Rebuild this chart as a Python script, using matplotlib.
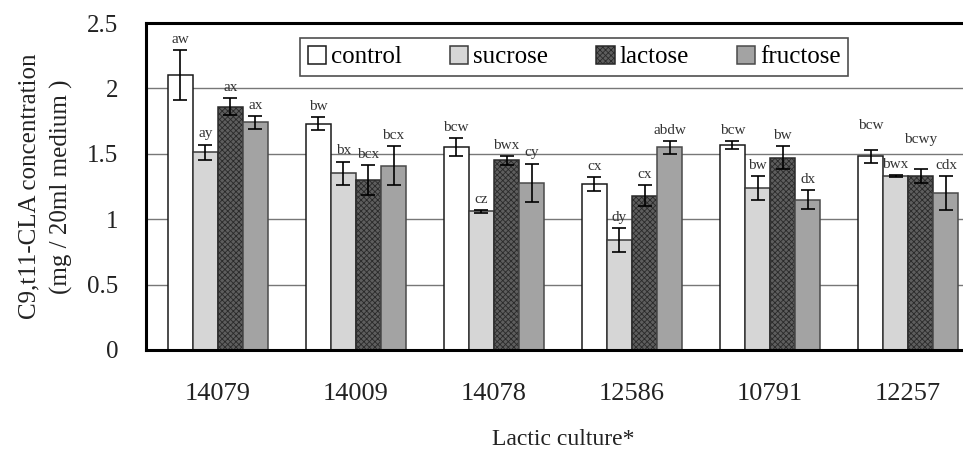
import numpy as np
import matplotlib
matplotlib.use("Agg")
import matplotlib.pyplot as plt

plt.rcParams['font.family'] = ['Liberation Serif', 'DejaVu Serif']
plt.rcParams['hatch.linewidth'] = 0.6

cultures = ['14079', '14009', '14078', '12586', '10791', '12257']
sugars = ['control', 'sucrose', 'lactose', 'fructose']

control = [2.10, 1.73, 1.55, 1.27, 1.57, 1.48]
sucrose = [1.51, 1.35, 1.06, 0.84, 1.24, 1.33]
lactose = [1.86, 1.30, 1.45, 1.18, 1.47, 1.33]
fructose = [1.74, 1.41, 1.28, 1.55, 1.15, 1.20]

control_err = [0.19, 0.05, 0.07, 0.055, 0.03, 0.05]
sucrose_err = [0.06, 0.09, 0.01, 0.09, 0.09, 0.01]
lactose_err = [0.065, 0.115, 0.035, 0.08, 0.09, 0.05]
fructose_err = [0.05, 0.15, 0.145, 0.05, 0.07, 0.13]

control_lab = ['aw', 'bw', 'bcw', 'cx', 'bcw', 'bcw']
sucrose_lab = ['ay', 'bx', 'cz', 'dy', 'bw', 'bwx']
lactose_lab = ['ax', 'bcx', 'bwx', 'cx', 'bw', 'bcwy']
fructose_lab = ['ax', 'bcx', 'cy', 'abdw', 'dx', 'cdx']

values = [control, sucrose, lactose, fructose]
errors = [control_err, sucrose_err, lactose_err, fructose_err]
letters = [control_lab, sucrose_lab, lactose_lab, fructose_lab]
colors = ['white', '#d6d6d6', '#5e5e5e', '#a3a3a3']
hatches = [None, None, 'xxxxxx', None]
edges = ['#1a1a1a', '#3a3a3a', '#2a2a2a', '#4a4a4a']

# extra lift (points) for crowded letter labels: (series, group)
lift = {(2, 5): 14, (0, 5): 10}

fig = plt.figure(figsize=(9.63, 4.53), dpi=100)
ax = fig.add_axes([146/963, 103/453, 834/963, 327/453])

x = np.arange(len(cultures))
w = 0.182
for i in range(4):
    pos = x + (i - 1.5) * w
    ax.bar(pos, values[i], w, color=colors[i], edgecolor=edges[i],
           hatch=hatches[i], linewidth=1.1, label=sugars[i], zorder=2)
    ax.errorbar(pos, values[i], yerr=errors[i], fmt='none', ecolor='black',
                elinewidth=1.2, capsize=5, capthick=1.2, zorder=3)
    for j, (p, v, e, t) in enumerate(zip(pos, values[i], errors[i], letters[i])):
        ax.annotate(t, (p, v + e), xytext=(0, 3 + lift.get((i, j), 0)),
                    textcoords='offset points', ha='center', va='bottom',
                    fontsize=11, color='#333333')

ax.set_xlim(-0.52, 5.52)
ax.set_ylim(0, 2.5)
ax.set_yticks([0, 0.5, 1, 1.5, 2, 2.5])
ax.set_yticklabels(['0', '0.5', '1', '1.5', '2', '2.5'])
ax.set_xticks(x)
ax.set_xticklabels(cultures)
ax.tick_params(axis='both', length=0, colors='#222222')
ax.tick_params(axis='y', pad=20, labelsize=18)
ax.tick_params(axis='x', pad=24, labelsize=19)
ax.yaxis.grid(True, color='#777777', linewidth=1.0, zorder=0)
ax.set_axisbelow(True)
for s in ['left', 'top', 'bottom']:
    ax.spines[s].set_linewidth(2.2)
ax.spines['right'].set_visible(False)

ax.set_ylabel('C9,t11-CLA concentration\n(mg / 20ml medium )', fontsize=18,
              linespacing=1.55, labelpad=10, color='#222222')
ax.set_xlabel('Lactic culture*', fontsize=17, labelpad=17, color='#222222')

leg = ax.legend(loc='upper left', bbox_to_anchor=(300/963, 1 - 38/453),
                bbox_transform=fig.transFigure, ncol=4, fontsize=18,
                frameon=True, fancybox=False, handlelength=0.75,
                handleheight=0.75, handletextpad=0.2, columnspacing=1.9,
                borderpad=0.3, borderaxespad=0)
leg.get_frame().set_edgecolor('#222222')
leg.get_frame().set_linewidth(1.2)

fig.savefig('out.png', dpi=100)
